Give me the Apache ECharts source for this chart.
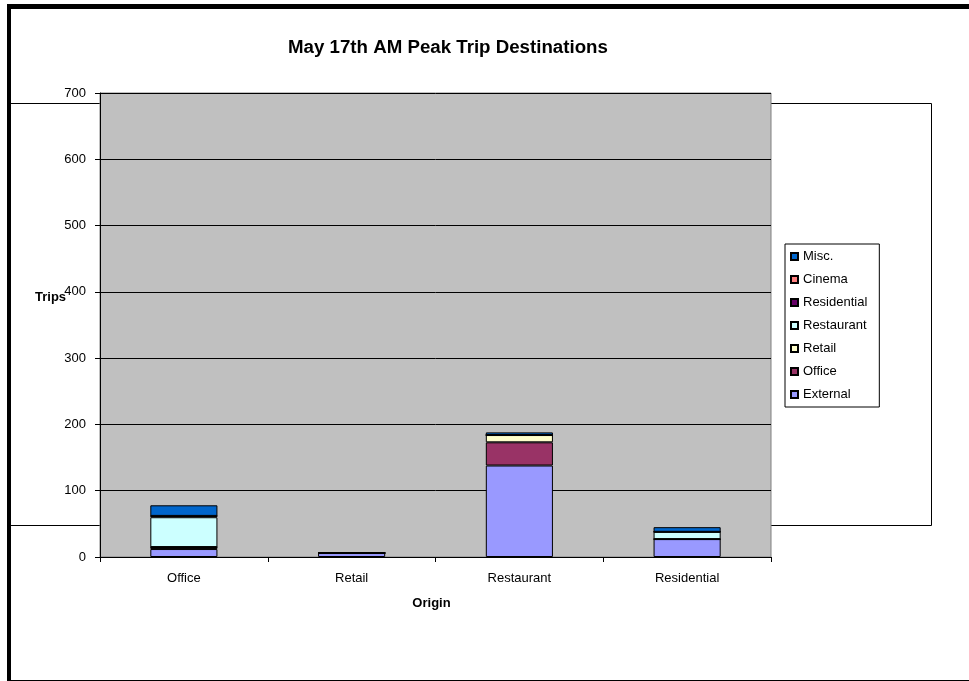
<!DOCTYPE html>
<html>
<head>
<meta charset="utf-8">
<title>May 17th AM Peak Trip Destinations</title>
<script src="https://cdn.jsdelivr.net/npm/echarts@6/dist/echarts.min.js"></script>
<style>
  html, body { margin: 0; padding: 0; background: #ffffff; }
  #chart { width: 969px; height: 681px; }
</style>
</head>
<body>
<div id="chart"></div>
<script>
// Origins along the category axis
const origins = ['Office', 'Retail', 'Restaurant', 'Residential'];

// Trips by destination, one value per origin
const external    = [12, 6, 138, 27];
const office      = [3, 0, 35, 0];
const retail      = [0, 0, 11, 0];
const restaurant  = [45, 0, 0, 11];
const residential = [2, 0, 0, 0];
const cinema      = [0, 0, 0, 0];
const misc        = [16, 0, 4, 7];

// Value axis ticks
const yTicks = [0, 100, 200, 300, 400, 500, 600, 700];

const FONT = '"Liberation Sans", Arial, sans-serif';

const seriesDefs = [
  { name: 'External',    data: external,    color: '#9999FF' },
  { name: 'Office',      data: office,      color: '#993366' },
  { name: 'Retail',      data: retail,      color: '#FFFFCC' },
  { name: 'Restaurant',  data: restaurant,  color: '#CCFFFF' },
  { name: 'Residential', data: residential, color: '#660066' },
  { name: 'Cinema',      data: cinema,      color: '#FF8080' },
  { name: 'Misc.',       data: misc,        color: '#0066CC' }
];

const chart = echarts.init(document.getElementById('chart'), null, { renderer: 'canvas' });

chart.setOption({
  animation: false,
  backgroundColor: '#ffffff',
  textStyle: { fontFamily: FONT },
  title: {
    text: 'May 17th AM Peak Trip Destinations',
    left: 283,
    top: 33,
    textStyle: { fontFamily: FONT, fontSize: 18.7, fontWeight: 'bold', color: '#000' }
  },
  grid: {
    left: 100,
    right: 198,
    top: 93,
    bottom: 124,
    show: true,
    backgroundColor: '#C0C0C0',
    borderColor: '#808080',
    borderWidth: 1
  },
  legend: {
    orient: 'vertical',
    left: 785,
    top: 244,
    padding: [6, 12, 6, 5],
    itemGap: 10,
    itemWidth: 7,
    itemHeight: 7,
    icon: 'rect',
    backgroundColor: '#ffffff',
    borderColor: '#000000',
    borderWidth: 1,
    textStyle: { fontFamily: FONT, fontSize: 13, color: '#000' },
    data: seriesDefs.map(s => s.name).slice().reverse()
  },
  xAxis: {
    type: 'category',
    data: origins,
    name: 'Origin',
    nameLocation: 'middle',
    nameGap: 40,
    nameTextStyle: { fontFamily: FONT, fontSize: 13, fontWeight: 'bold', color: '#000', padding: [0, 8, 0, 0] },
    axisLine: { lineStyle: { color: '#000', width: 1 } },
    axisTick: { show: true, length: 5, inside: false, lineStyle: { color: '#000' } },
    axisLabel: { fontFamily: FONT, fontSize: 13, color: '#000', margin: 15 },
    splitLine: { show: false }
  },
  yAxis: {
    type: 'value',
    min: yTicks[0],
    max: yTicks[yTicks.length - 1],
    interval: yTicks[1] - yTicks[0],
    axisLine: { show: true, lineStyle: { color: '#000', width: 1 } },
    axisTick: { show: true, length: 5, inside: false, lineStyle: { color: '#000' } },
    axisLabel: { fontFamily: FONT, fontSize: 13, color: '#000', margin: 14 },
    splitLine: { show: true, lineStyle: { color: '#000', width: 1 } }
  },
  series: seriesDefs.map(s => ({
    name: s.name,
    type: 'bar',
    stack: 'trips',
    barWidth: '40%',
    data: s.data,
    itemStyle: { color: s.color, borderColor: '#000', borderWidth: 1 }
  })),
  graphic: [
    // outer chart frame: heavy left and top edges, thin bottom edge
    { type: 'line', z: -5, shape: { x1: 9, y1: 4, x2: 9, y2: 681 }, style: { stroke: '#000', lineWidth: 4 } },
    { type: 'line', z: -5, shape: { x1: 7, y1: 6.5, x2: 969, y2: 6.5 }, style: { stroke: '#000', lineWidth: 5 } },
    { type: 'line', z: -5, shape: { x1: 7, y1: 680.5, x2: 969, y2: 680.5 }, style: { stroke: '#000', lineWidth: 1 } },
    // plot-area panel behind the grid
    { type: 'rect', z: -10, shape: { x: 10.5, y: 103.5, width: 921, height: 422 }, style: { fill: '#fff', stroke: '#000', lineWidth: 1 } },
    // value axis title
    { type: 'text', z: 10, left: 35, top: 291, style: { text: 'Trips', font: 'bold 13px ' + FONT, fill: '#000' } }
  ]
});
</script>
</body>
</html>
